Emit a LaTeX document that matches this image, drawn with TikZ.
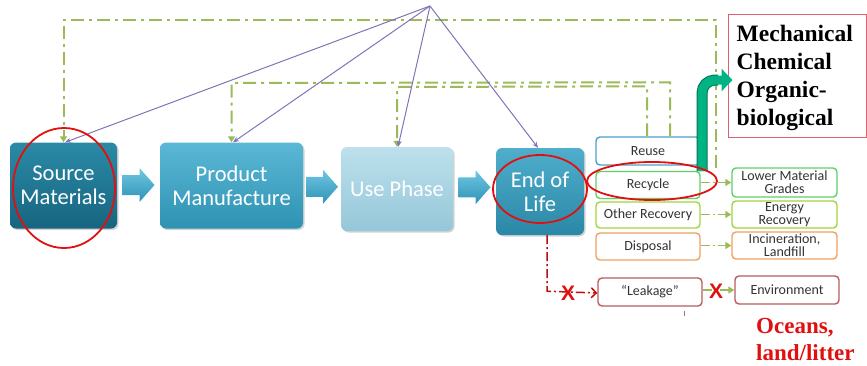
\documentclass[tikz,border=0pt]{standalone}
\usepackage{fontspec}
\setmainfont{Carlito}
\newfontfamily\tnr{Liberation Serif}
\newfontfamily\arialf{Liberation Sans}
\usetikzlibrary{arrows.meta,shadows,calc}
\definecolor{fbgreen}{HTML}{9BBB59}
\definecolor{purp}{HTML}{8273B9}
\definecolor{redx}{HTML}{E01010}
\definecolor{bluebd}{HTML}{4AA0CC}
\definecolor{greenbd}{HTML}{5FCF6A}
\definecolor{limebd}{HTML}{A2D43C}
\definecolor{orangebd}{HTML}{F0A060}
\definecolor{leakbd}{HTML}{B95C5F}
\definecolor{grarrow}{HTML}{00B383}
\definecolor{mechbd}{HTML}{E06070}
\definecolor{srcT}{HTML}{2A8AA6}
\definecolor{srcB}{HTML}{176580}
\definecolor{pmT}{HTML}{5BB8D6}
\definecolor{pmB}{HTML}{2E92B2}
\definecolor{useT}{HTML}{BDE0EC}
\definecolor{useB}{HTML}{95C7D9}
\definecolor{eolT}{HTML}{4FAECB}
\definecolor{eolB}{HTML}{2A88A6}
\definecolor{arT}{HTML}{6FC6E2}
\definecolor{arB}{HTML}{2F93B6}
\begin{document}
\begin{tikzpicture}[x=1pt,y=-1pt,
  mainbox/.style={rounded corners=6pt, text=white, align=center, inner sep=0,
    font=\fontsize{22.5}{24}\selectfont,
    drop shadow={opacity=0.35, shadow xshift=1.5pt, shadow yshift=-1.5pt}},
  flowarrow/.style={top color=arT, bottom color=arB},
  smallbox/.style={draw, line width=1.4pt, rounded corners=4pt, fill=white, minimum width=104pt,
    inner sep=0, font=\fontsize{14}{13}\selectfont, text=black!80, align=center},
  fb/.style={draw=fbgreen, line width=2pt, dash pattern=on 13pt off 5pt on 3pt off 5pt,
    -{Triangle[length=6pt,width=7pt]}},
  pl/.style={draw=purp, line width=1pt, -{Stealth[length=6pt,width=5pt]}},
  shortg/.style={draw=fbgreen, line width=1.6pt, dash pattern=on 9pt off 3pt on 2pt off 3pt,
    -{Triangle[length=6pt,width=7pt]}},
  redring/.style={draw=redx, line width=1.8pt},
  xmark/.style={text=redx, font=\arialf\bfseries\fontsize{21}{21}\selectfont, inner sep=0}
]
\useasboundingbox (0,0) rectangle (867,365);

% main flow boxes
\node[mainbox, minimum width=107pt, minimum height=86pt, top color=srcT, bottom color=srcB] (src) at (63.5,185.5) {Source\\Materials};
\node[mainbox, minimum width=143pt, minimum height=86pt, top color=pmT, bottom color=pmB] (pm) at (231.5,185.5) {Product\\Manufacture};
\node[mainbox, minimum width=112pt, minimum height=84pt, top color=useT, bottom color=useB] (use) at (397,189) {Use Phase};
\node[mainbox, minimum width=88pt, minimum height=87pt, top color=eolT, bottom color=eolB] (eol) at (540,191.5) {End of\\Life};

% block arrows between the main boxes
\coordinate (a1) at ($(src.east)!0.5!(pm.west)+(0,-0.5)$);
\coordinate (a2) at ($(pm.east)!0.5!(use.west)+(0,-0.5)$);
\coordinate (a3) at ($(use.east)!0.5!(eol.west)+(0,-3)$);
\foreach \c in {a1,a2,a3}{
  \shade[flowarrow] ($(\c)+(-16,-10)$) -- ++(17,0) -- ++(0,-7) -- ++(15,17) -- ++(-15,17) -- ++(0,-7) -- ++(-17,0) -- cycle;
}

% right column
\node[smallbox, draw=bluebd, minimum height=28pt] (reuse) at (648,151) {Reuse};
\node[smallbox, draw=greenbd, minimum height=27pt] (recycle) at (648,185) {Recycle};
\node[smallbox, draw=limebd, minimum height=26pt] (other) at (648,215) {Other Recovery};
\node[smallbox, draw=orangebd, minimum height=27pt] (disp) at (648,246.5) {Disposal};
\node[smallbox, draw=greenbd, minimum width=105pt, minimum height=29pt] (lower) at (784.5,182.5) {Lower Material\\Grades};
\node[smallbox, draw=limebd, minimum width=105pt, minimum height=27pt] (energy) at (784.5,214.5) {Energy\\Recovery};
\node[smallbox, draw=orangebd, minimum width=105pt, minimum height=27pt] (incin) at (784.5,245.5) {Incineration,\\Landfill};
\node[smallbox, draw=leakbd, minimum height=28pt] (leak) at (650,292) {“Leakage”};
\node[smallbox, draw=leakbd, minimum height=28pt] (env) at (787,290) {Environment};

\draw[shortg] (recycle.east |- lower.west) -- (lower.west);
\draw[shortg] (other.east |- energy.west) -- (energy.west);
\draw[shortg] (disp.east |- incin.west) -- (incin.west);
\draw[shortg] (leak.east |- env.west) -- (env.west);

% mechanical box
\node[draw=mechbd, line width=1pt, fill=white, minimum width=138pt, minimum height=123pt, inner sep=0] (mech) at (797,75.5) {};
\node[anchor=north west, inner sep=0, text width=128pt, align=left,
  font=\tnr\bfseries\fontsize{23.5}{28}\selectfont] (mechtext) at ([shift={(9,11)}]mech.north west)
  {Mechanical\\Chemical\\Organic-\\biological};

% feedback dash-dot lines
\coordinate (fa) at (716,168);
\draw[fb] (fa) -- (716,20) -- (src.north |- 0,20) -- (src.north);
\coordinate (fbs) at ($(reuse.north)+(22,0)$);
\draw[fb] (fbs) -- ($(fbs)+(0,-54)$) -- (pm.north |- 0,83) -- (pm.north);
\coordinate (fcs) at ($(reuse.north)+(-1,0)$);
\draw[fb] (fcs) -- ($(fcs)+(0,-50)$) -- (use.north |- 0,87) -- (use.north);

% purple lines from top
\coordinate (top) at (430,6);
\draw[pl] (top) -- ([xshift=1.5pt]src.north);
\draw[pl] (top) -- ([xshift=1.5pt]pm.north);
\draw[pl] (top) -- ([xshift=1pt]use.north);
\draw[pl] (top) -- ([xshift=-2pt]eol.north);

% green process arrow
\coordinate (gs) at (702,171);
\draw[draw=grarrow!65!black, line width=11pt, rounded corners=13pt] (gs) -- (702,80) -- (718,80);
\draw[draw=grarrow, line width=9pt, rounded corners=13pt, -{Triangle[length=11pt,width=22pt]}] (gs) -- (702,80) -- ([shift={(5,4.5)}]mech.west);

% leakage path
\draw[draw=redx!85!black, line width=1.5pt, dash pattern=on 9pt off 3pt on 2pt off 3pt, -{Straight Barb[length=5pt,width=10pt]}]
  ([xshift=7pt]eol.south) -- ++(0,56) -- (leak.west |- 0,293);
\node[xmark] (x1) at (568,293) {X};
\node[xmark] (x2) at (716,291) {X};
\draw[gray, line width=0.6pt] (684,311) -- (684,316);

% red rings
\draw[redring] (64,188) ellipse [x radius=51, y radius=60];
\draw[redring] (540,189) ellipse [x radius=47, y radius=34];
\draw[redring] (652,181) ellipse [x radius=65, y radius=19];

\node[anchor=west, text=redx, align=left, inner sep=0, font=\tnr\bfseries\fontsize{23}{27}\selectfont] (oceans) at (756,339) {Oceans,\\land/litter};
\end{tikzpicture}
\end{document}
